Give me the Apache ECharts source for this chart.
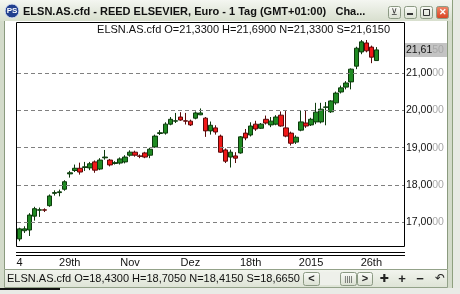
<!DOCTYPE html>
<html><head><meta charset="utf-8">
<script src="https://cdn.jsdelivr.net/npm/echarts@6/dist/echarts.min.js"></script>
<style>html,body{margin:0;padding:0;background:#fff}#c{width:460px;height:294px}</style>
</head><body><div id="c"></div>
<script>
// ---- data ----
const opens  = [16.56,16.78,16.80,17.17,17.33,17.34,17.45,17.78,17.80,17.89,18.30,18.39,18.45,18.47,18.46,18.62,18.43,18.73,18.67,18.58,18.59,18.62,18.80,18.88,18.78,18.86,18.80,19.02,19.38,19.39,19.63,19.71,19.82,19.72,19.71,19.79,19.88,19.79,19.45,19.53,19.31,18.94,18.75,18.78,18.86,19.39,19.34,19.63,19.52,19.76,19.61,19.63,19.87,19.53,19.39,19.15,19.47,19.66,19.61,19.69,19.69,20.08,19.96,20.20,20.49,20.62,20.76,21.18,21.56,21.80,21.69,21.33];
const closes = [16.83,16.83,17.20,17.37,17.34,17.33,17.71,17.80,17.82,18.09,18.33,18.45,18.35,18.49,18.57,18.40,18.67,18.75,18.54,18.60,18.70,18.75,18.88,18.80,18.77,18.75,18.96,19.31,19.40,19.63,19.76,19.72,19.74,19.71,19.61,19.93,19.93,19.45,19.60,19.42,18.88,18.64,18.88,18.72,19.29,19.26,19.58,19.50,19.63,19.66,19.71,19.82,19.58,19.31,19.12,19.28,19.69,19.58,19.76,19.95,20.03,20.09,20.25,20.46,20.60,20.73,21.10,21.66,21.83,21.59,21.42,21.615];
const lows   = [16.50,16.72,16.64,17.05,17.15,17.28,17.42,17.72,17.70,17.85,18.20,18.35,18.28,18.38,18.40,18.33,18.40,18.68,18.50,18.55,18.55,18.58,18.76,18.76,18.72,18.72,18.72,19.00,19.34,19.35,19.60,19.66,19.72,19.62,19.58,19.76,19.87,19.29,19.35,19.35,18.86,18.59,18.47,18.59,18.84,19.20,19.30,19.45,19.50,19.62,19.55,19.60,19.56,19.28,19.06,19.10,19.44,19.53,19.58,19.63,19.65,19.60,19.93,20.15,20.45,20.56,20.56,21.10,21.50,21.55,21.26,21.33];
const highs  = [16.86,16.90,17.25,17.42,17.40,17.38,17.75,17.86,17.88,18.13,18.38,18.55,18.60,18.62,18.62,18.66,18.72,18.94,18.70,18.64,18.74,18.80,18.93,18.92,18.82,18.89,19.00,19.35,19.47,19.68,19.82,19.93,19.95,19.93,19.75,19.97,20.05,19.82,19.70,19.60,19.35,18.98,18.95,18.88,19.31,19.50,19.68,19.72,19.66,19.86,19.82,19.87,19.97,19.98,19.43,19.33,20.00,19.99,19.80,20.20,20.20,20.22,20.27,20.50,20.66,20.78,21.12,21.70,21.88,21.88,21.73,21.69];
const slotCount = 77;               // 72 candles + empty space on the right
const tickIndex = [0, 10, 22, 34, 46, 58, 70];
const tickText  = ['4', '29th', 'Nov', 'Dez', '18th', '2015', '26th'];
const gridValues = [17, 18, 19, 20, 21];
const lastPrice = 21.615;
const headerText = 'ELSN.AS.cfd O=21,3300 H=21,6900 N=21,3300 S=21,6150';
const statusText = 'ELSN.AS.cfd O=18,4300 H=18,7050 N=18,4150 S=18,6650';
const titleText  = 'ELSN.AS.cfd - REED ELSEVIER, Euro - 1 Tag (GMT+01:00)   Cha...';

// ---- build ----
const categories = [];
for (let i = 0; i < slotCount; i++) categories.push('c' + i);
const ohlc = opens.map((o, i) => [o, closes[i], lows[i], highs[i]]);

function fmtPrice(v) {
  const s = v.toFixed(4).replace('.', ',');
  return '{a|' + s.slice(0, s.length - 2) + '}{b|' + s.slice(s.length - 2) + '}';
}

const FONT = '"Liberation Sans", Arial, sans-serif';
const chart = echarts.init(document.getElementById('c'), null, {renderer: 'canvas'});
const grad = (c1, c2) => new echarts.graphic.LinearGradient(0, 0, 0, 1, [{offset: 0, color: c1}, {offset: 1, color: c2}]);

function btn(x, y, w, h, fill) {
  return {type: 'rect', shape: {x: x + 0.5, y: y + 0.5, width: w, height: h, r: 2},
          style: {fill: fill || grad('#fbfcf9', '#d9dfd0'), stroke: '#8c9a84', lineWidth: 1}};
}

const graphics = [
  {type: 'rect', shape: {x: 0, y: 0, width: 460, height: 294}, style: {fill: '#d3dbca'}},
  {type: 'rect', shape: {x: 0, y: 0, width: 452, height: 21}, style: {fill: grad('#f4f6f1', '#d8dfce')}},
  {type: 'rect', shape: {x: 452, y: 0, width: 8, height: 294}, style: {fill: '#e7eae3'}},
  {type: 'line', shape: {x1: 452.5, y1: 0, x2: 452.5, y2: 294}, style: {stroke: '#8ea07e', lineWidth: 1}},
  {type: 'rect', shape: {x: 5, y: 21, width: 443, height: 248}, style: {fill: '#ffffff'}},
  {type: 'line', shape: {x1: 4.5, y1: 21, x2: 4.5, y2: 269}, style: {stroke: '#8a9a7e', lineWidth: 1}},
  {type: 'line', shape: {x1: 447.5, y1: 21, x2: 447.5, y2: 269}, style: {stroke: '#8a9a7e', lineWidth: 1}},
  // title bar
  {type: 'circle', shape: {cx: 12, cy: 11, r: 7}, style: {fill: '#22408f', stroke: '#dfe6f5', lineWidth: 1}},
  {type: 'text', x: 12, y: 11, style: {text: 'PS', fill: '#fff', font: 'bold 8px ' + FONT, align: 'center', verticalAlign: 'middle'}},
  {type: 'text', x: 23, y: 12, style: {text: titleText, fill: '#111', font: 'bold 11px ' + FONT, verticalAlign: 'middle'}},
  btn(388, 6, 12, 12),
  {type: 'text', x: 394.5, y: 12.5, style: {text: '\u22BB', fill: '#333', font: '9px ' + FONT, align: 'center', verticalAlign: 'middle'}},
  btn(404, 6, 12, 12),
  {type: 'rect', shape: {x: 407, y: 13, width: 6, height: 2}, style: {fill: '#333'}},
  btn(420, 6, 12, 12),
  {type: 'rect', shape: {x: 423.5, y: 9.5, width: 6, height: 6}, style: {fill: 'none', stroke: '#333', lineWidth: 1}},
  btn(436, 6, 12, 12, grad('#f08a6c', '#d8401e')),
  {type: 'text', x: 442.5, y: 12.5, style: {text: '\u2715', fill: '#fff', font: 'bold 9px ' + FONT, align: 'center', verticalAlign: 'middle'}},
  // plot border and header
  {type: 'rect', shape: {x: 16.5, y: 22.5, width: 388, height: 224}, style: {fill: 'none', stroke: '#000', lineWidth: 1}, z: 10},
  {type: 'text', x: 390, y: 30, style: {text: headerText, fill: '#111', font: '11px ' + FONT, align: 'right', verticalAlign: 'middle'}, z: 10},
  {type: 'line', shape: {x1: 16, y1: 252.5, x2: 405, y2: 252.5}, style: {stroke: '#000', lineWidth: 1}},
  {type: 'line', shape: {x1: 16, y1: 255.5, x2: 405, y2: 255.5}, style: {stroke: '#000', lineWidth: 1}},
  // status bar
  {type: 'rect', shape: {x: 4.5, y: 269.5, width: 443, height: 18}, style: {fill: grad('#f3f5ef', '#dde3d5'), stroke: '#93a289', lineWidth: 1}},
  {type: 'text', x: 7, y: 279, style: {text: statusText, fill: '#111', font: '11px ' + FONT, verticalAlign: 'middle'}},
  btn(303, 272, 16, 13),
  {type: 'text', x: 311.5, y: 279, style: {text: '<', fill: '#222', font: 'bold 11px ' + FONT, align: 'center', verticalAlign: 'middle'}},
  {type: 'rect', shape: {x: 320, y: 272, width: 37, height: 13}, style: {fill: '#eef0ea'}},
  btn(340, 272, 16, 13),
  {type: 'text', x: 348.5, y: 279, style: {text: '||||', fill: '#444', font: '8px ' + FONT, align: 'center', verticalAlign: 'middle'}},
  btn(357, 272, 15, 13),
  {type: 'text', x: 365, y: 279, style: {text: '>', fill: '#222', font: 'bold 11px ' + FONT, align: 'center', verticalAlign: 'middle'}},
  {type: 'text', x: 384, y: 279, style: {text: '\u271A', fill: '#222', font: '11px "DejaVu Sans"', align: 'center', verticalAlign: 'middle'}},
  {type: 'text', x: 402, y: 279, style: {text: '+', fill: '#222', font: 'bold 13px ' + FONT, align: 'center', verticalAlign: 'middle'}},
  {type: 'text', x: 420, y: 279, style: {text: '\u2212', fill: '#222', font: 'bold 13px ' + FONT, align: 'center', verticalAlign: 'middle'}},
  {type: 'text', x: 440, y: 279, style: {text: '\u21B6', fill: '#222', font: '12px "DejaVu Sans"', align: 'center', verticalAlign: 'middle'}},
  // strip below the window
  {type: 'rect', shape: {x: 0, y: 288, width: 460, height: 6}, style: {fill: '#e9ebe6'}},
  {type: 'rect', shape: {x: 0, y: 288, width: 60, height: 2}, style: {fill: '#111'}}
];

const markData = gridValues.map(v => ({yAxis: v}));
markData.push({
  yAxis: lastPrice,
  lineStyle: {color: 'rgba(0,0,0,0)', width: 1},
  label: {show: true, backgroundColor: '#c3c3c3', padding: [2, 3, 1, 2], distance: 0}
});

chart.setOption({
  animation: false,
  backgroundColor: 'transparent',
  textStyle: {fontFamily: FONT},
  graphic: {elements: graphics},
  grid: {left: 17, right: 56, top: 22, bottom: 48, containLabel: false},
  xAxis: {
    type: 'category', data: categories, boundaryGap: true,
    axisLine: {show: false}, axisTick: {show: false}, splitLine: {show: false},
    axisLabel: {
      interval: (i) => tickIndex.indexOf(i) >= 0,
      formatter: (v, i) => { const k = tickIndex.indexOf(i); return k >= 0 ? tickText[k] : ''; },
      color: '#111', fontSize: 11, fontFamily: FONT, margin: 11
    }
  },
  yAxis: {
    type: 'value', min: 16.372, max: 22.361, position: 'right', show: false, scale: true
  },
  series: [{
    type: 'candlestick',
    data: ohlc,
    barWidth: 5,
    itemStyle: {color: '#1f8a22', color0: '#f01818', borderColor: '#0c3a0c', borderColor0: '#5a0a0a', borderWidth: 1},
    markLine: {
      silent: true, symbol: ['none', 'none'], animation: false, precision: 4,
      lineStyle: {color: '#808080', type: [4, 3], width: 1},
      label: {
        show: true, position: 'end', distance: 2,
        formatter: (p) => fmtPrice(p.value),
        rich: {
          a: {color: '#111', fontSize: 10.5, fontFamily: FONT},
          b: {color: '#a8a8a8', fontSize: 10.5, fontFamily: FONT}
        }
      },
      data: markData
    }
  }]
});
</script></body></html>
